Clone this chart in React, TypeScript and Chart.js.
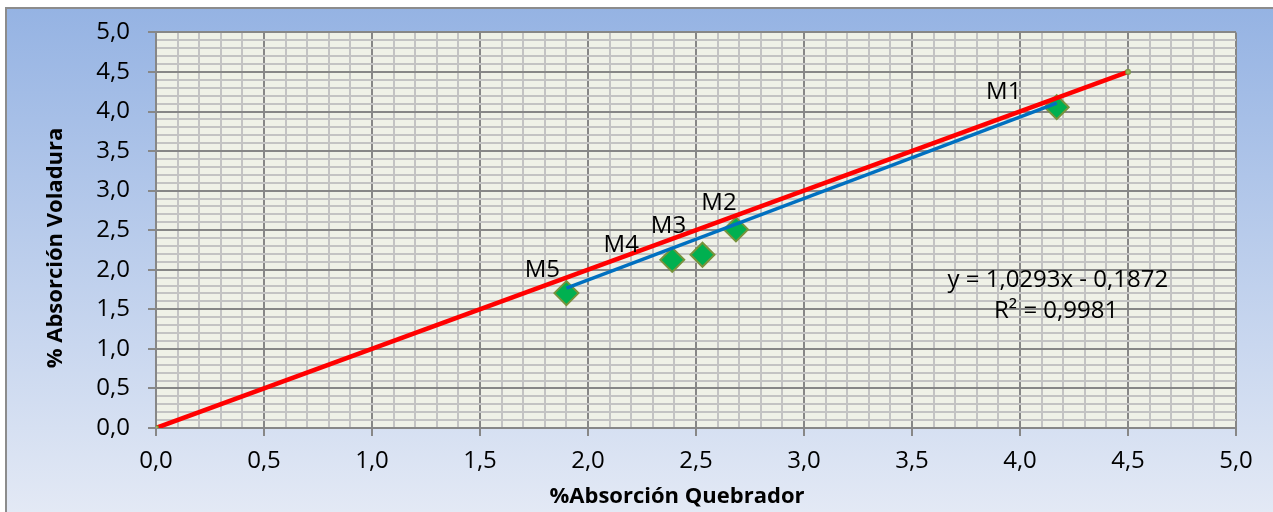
import React, { useEffect, useRef } from 'react';
import { Chart, registerables } from 'chart.js';

Chart.register(...registerables);

// ---- data ----
const sampleNames = ['M1', 'M2', 'M3', 'M4', 'M5'];
const absorcionQuebrador = [4.17, 2.685, 2.53, 2.39, 1.9];
const absorcionVoladura = [4.055, 2.51, 2.19, 2.125, 1.705];
const identityLineX = [0, 4.5];
const identityLineY = [0, 4.5];
const trendSlope = 1.0293;
const trendIntercept = -0.1872;
const trendR2 = 0.9981;
const majorTickLabels = ['0,0', '0,5', '1,0', '1,5', '2,0', '2,5', '3,0', '3,5', '4,0', '4,5', '5,0'];
const xTitle = '%Absorción Quebrador';
const yTitle = '% Absorción Voladura';

// ---- styles ----
const FONT = '"Open Sans", "DejaVu Sans", sans-serif';
const LABEL_OFFSETS: [number, number][] = [[-53, -15], [-17, -26], [-34, -29], [-51, -15], [-24, -23]];
const MAJOR = '#878787';
const MINOR = '#c3c3c3';

const isMajor = (v: number) => Math.abs(v * 2 - Math.round(v * 2)) < 1e-6;

const decoPlugin = {
  id: 'deco',
  beforeDraw(chart: any) {
    const { ctx, width, height, chartArea } = chart;
    ctx.save();
    ctx.fillStyle = '#ffffff';
    ctx.fillRect(0, 0, width, height);
    const g = ctx.createLinearGradient(0, 8, 0, height);
    g.addColorStop(0, '#95b3e3');
    g.addColorStop(1, '#e3e9f5');
    ctx.fillStyle = g;
    ctx.fillRect(6, 8, width - 6, height - 8);
    ctx.strokeStyle = '#8c8c8c';
    ctx.lineWidth = 2;
    ctx.beginPath();
    ctx.moveTo(6, height);
    ctx.lineTo(6, 8);
    ctx.lineTo(width, 8);
    ctx.stroke();
    ctx.fillStyle = '#eff1e7';
    ctx.fillRect(chartArea.left, chartArea.top, chartArea.right - chartArea.left, chartArea.bottom - chartArea.top);
    ctx.restore();
  },
  afterDatasetsDraw(chart: any) {
    const { ctx } = chart;
    const xs = chart.scales.x;
    const ys = chart.scales.y;
    ctx.save();
    ctx.fillStyle = '#000';
    ctx.font = `24px ${FONT}`;
    ctx.textAlign = 'center';
    ctx.textBaseline = 'middle';
    sampleNames.forEach((n, i) => {
      const px = xs.getPixelForValue(absorcionQuebrador[i]) + LABEL_OFFSETS[i][0];
      const py = ys.getPixelForValue(absorcionVoladura[i]) + LABEL_OFFSETS[i][1];
      ctx.fillText(n, px, py);
    });
    const fmt4 = (v: number) => Math.abs(v).toFixed(4).replace('.', ',');
    const eq = `y = ${fmt4(trendSlope)}x ${trendIntercept < 0 ? '-' : '+'} ${fmt4(trendIntercept)}`;
    ctx.fillText(eq, xs.getPixelForValue(4.175), ys.getPixelForValue(1.87));
    ctx.fillText(`R² = ${fmt4(trendR2)}`, xs.getPixelForValue(4.167), ys.getPixelForValue(1.48));
    ctx.font = `bold 22px ${FONT}`;
    ctx.fillText(xTitle, 677, 497);
    ctx.translate(56, 248);
    ctx.rotate(-Math.PI / 2);
    ctx.fillText(yTitle, 0, 0);
    ctx.restore();
  },
};

function axisOptions(afterFit: (s: any) => void, padding: number) {
  return {
    type: 'linear' as const,
    min: 0,
    max: 5,
    afterFit,
    border: { display: true, color: MAJOR, width: 2 },
    grid: {
      color: (c: any) => (isMajor(c.tick.value) ? MAJOR : MINOR),
      tickColor: (c: any) => (isMajor(c.tick.value) ? MAJOR : 'rgba(0,0,0,0)'),
      lineWidth: 2,
      tickLength: 8,
      drawTicks: true,
    },
    ticks: {
      stepSize: 0.1,
      autoSkip: false,
      maxRotation: 0,
      padding,
      color: '#000',
      font: { family: FONT, size: 24 },
      callback: (v: any) => (isMajor(Number(v)) ? majorTickLabels[Math.round(Number(v) * 2)] : ''),
    },
    title: { display: false },
  };
}

export default function App() {
  const ref = useRef<HTMLCanvasElement>(null);
  useEffect(() => {
    const x0 = Math.min(...absorcionQuebrador);
    const x1 = Math.max(...absorcionQuebrador);
    const chart = new Chart(ref.current!, {
      type: 'scatter',
      data: {
        datasets: [
          {
            label: 'identidad',
            data: identityLineX.map((x, i) => ({ x, y: identityLineY[i] })),
            showLine: true,
            borderColor: '#ff0000',
            borderWidth: 4.5,
            pointStyle: 'rect',
            pointRadius: 3,
            pointBackgroundColor: '#9bbb59',
            pointBorderColor: '#77933c',
            pointBorderWidth: 1,
            order: 0,
          },
          {
            label: 'tendencia',
            data: [x0, x1].map((x) => ({ x, y: trendSlope * x + trendIntercept })),
            showLine: true,
            borderColor: '#0070c0',
            borderWidth: 3.5,
            pointRadius: 0,
            order: 1,
          },
          {
            label: 'muestras',
            data: absorcionQuebrador.map((x, i) => ({ x, y: absorcionVoladura[i] })),
            pointStyle: 'rectRot',
            pointRadius: 12,
            pointBackgroundColor: '#00b050',
            pointBorderColor: '#77933c',
            pointBorderWidth: 2,
            order: 2,
          },
        ],
      },
      options: {
        responsive: false,
        animation: false,
        layout: { padding: { left: 0, top: 32, right: 37, bottom: 0 } },
        plugins: { legend: { display: false }, tooltip: { enabled: false } },
        scales: {
          x: { ...axisOptions((s: any) => { s.height = 84; }, 11), z: 0 } as any,
          y: { ...axisOptions((s: any) => { s.width = 156; }, 18), z: -1 } as any,
        },
      },
      plugins: [decoPlugin],
    });
    return () => chart.destroy();
  }, []);
  return (
    <div style={{ position: 'absolute', left: 0, top: 0, width: 1273, height: 512 }}>
      <canvas ref={ref} width={1273} height={512} style={{ display: 'block' }} />
    </div>
  );
}
